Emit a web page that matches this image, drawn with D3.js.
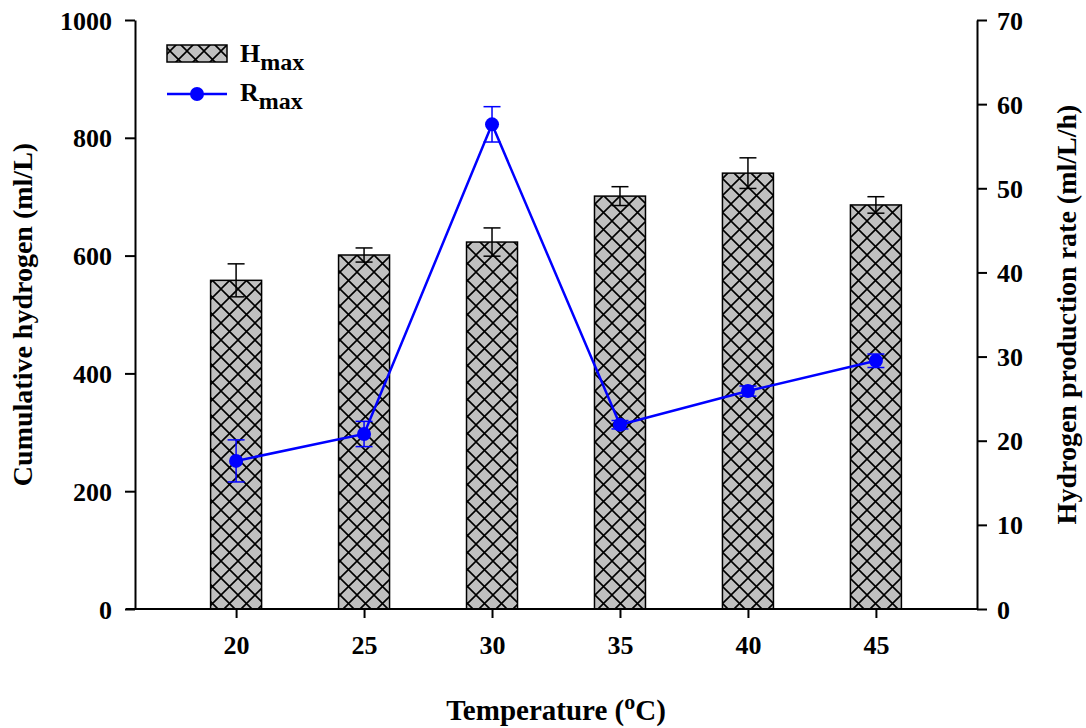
<!DOCTYPE html>
<html>
<head>
<meta charset="utf-8">
<script src="https://cdn.jsdelivr.net/npm/d3@7"></script>
<style>
  body { margin: 0; background: #fff; }
  svg text { font-family: "Liberation Serif", "Times New Roman", serif; font-weight: bold; }
</style>
</head>
<body>
<div id="container"></div>
<script>
// data
var temps = [20, 25, 30, 35, 40, 45];
var hmax = [558, 601, 623, 701, 740, 686];
var hmaxErr = [28, 12, 24, 16, 26, 14];
var rmax = [17.6, 20.8, 57.6, 21.9, 25.9, 29.5];
var rmaxErr = [2.5, 1.5, 2.1, 0.5, 0.6, 0.8];
var leftTicks = [0, 200, 400, 600, 800, 1000];
var rightTicks = [0, 10, 20, 30, 40, 50, 60, 70];

var W = 1086, H = 728;
var mLeft = 135, mRight = 977, mTop = 20, mBottom = 609;

var svg = d3.select('#container')
    .append('svg')
    .attr('width', W)
    .attr('height', H);

var defs = svg.append('defs');
var pat = defs.append('pattern')
    .attr('id', 'hatch')
    .attr('patternUnits', 'userSpaceOnUse')
    .attr('width', 17)
    .attr('height', 17);
pat.append('rect').attr('width', 17).attr('height', 17).attr('fill', '#c0c0c0');
pat.append('path')
    .attr('d', 'M0,0 L17,17 M17,0 L0,17 M-2,15 L2,19 M15,-2 L19,2 M-2,2 L2,-2 M15,19 L19,15')
    .attr('stroke', '#000')
    .attr('stroke-width', 1.6);

var x = d3.scalePoint()
    .domain(temps)
    .range([mLeft, mRight])
    .padding(0.79);

var yL = d3.scaleLinear().domain([0, 1000]).range([mBottom, mTop]);
var yR = d3.scaleLinear().domain([0, 70]).range([mBottom, mTop]);

var barW = 51;

// bars
svg.selectAll('.bar')
    .data(temps)
    .enter().append('rect')
    .attr('class', 'bar')
    .attr('x', function (d) { return x(d) - barW / 2; })
    .attr('y', function (d, i) { return yL(hmax[i]); })
    .attr('width', barW)
    .attr('height', function (d, i) { return mBottom - yL(hmax[i]); })
    .attr('fill', 'url(#hatch)')
    .attr('stroke', '#000')
    .attr('stroke-width', 1.5);

// bar error bars
var capW = 17;
temps.forEach(function (t, i) {
    var cx = x(t), hi = yL(hmax[i] + hmaxErr[i]), lo = yL(hmax[i] - hmaxErr[i]);
    var g = svg.append('g').attr('stroke', '#000').attr('stroke-width', 1.5);
    g.append('line').attr('x1', cx).attr('x2', cx).attr('y1', hi).attr('y2', lo);
    g.append('line').attr('x1', cx - capW / 2).attr('x2', cx + capW / 2).attr('y1', hi).attr('y2', hi);
    g.append('line').attr('x1', cx - capW / 2).attr('x2', cx + capW / 2).attr('y1', lo).attr('y2', lo);
});

// axes
var axL = d3.axisLeft(yL).tickValues(leftTicks).tickFormat(d3.format('d')).tickSize(10).tickSizeOuter(0);
var axR = d3.axisRight(yR).tickValues(rightTicks).tickFormat(d3.format('d')).tickSize(10).tickSizeOuter(0);
var axB = d3.axisBottom(x).tickSize(9).tickSizeOuter(0);

function styleAxis(g) {
    g.selectAll('path, line').attr('stroke', '#000').attr('stroke-width', 2);
    g.selectAll('text').attr('fill', '#000').style('font-size', '26px');
}

svg.append('g').attr('transform', 'translate(' + mLeft + ',0)').call(axL).call(styleAxis)
    .selectAll('text').attr('x', -23).attr('dy', '0.35em');
svg.append('g').attr('transform', 'translate(' + mRight + ',0)').call(axR).call(styleAxis)
    .selectAll('text').attr('x', 20).attr('dy', '0.35em');
var gB = svg.append('g').attr('transform', 'translate(0,' + mBottom + ')').call(axB).call(styleAxis);
gB.selectAll('text').attr('y', 27);
gB.select('.domain').attr('d', 'M' + (mLeft - 9) + ',0H' + mRight);

// line series
var line = d3.line()
    .x(function (d, i) { return x(temps[i]); })
    .y(function (d) { return yR(d); });

svg.append('path')
    .attr('d', line(rmax))
    .attr('fill', 'none')
    .attr('stroke', '#0000ff')
    .attr('stroke-width', 2.5);

temps.forEach(function (t, i) {
    var cx = x(t), hi = yR(rmax[i] + rmaxErr[i]), lo = yR(rmax[i] - rmaxErr[i]);
    var g = svg.append('g').attr('stroke', '#0000ff').attr('stroke-width', 1.5);
    g.append('line').attr('x1', cx).attr('x2', cx).attr('y1', hi).attr('y2', lo);
    g.append('line').attr('x1', cx - capW / 2).attr('x2', cx + capW / 2).attr('y1', hi).attr('y2', hi);
    g.append('line').attr('x1', cx - capW / 2).attr('x2', cx + capW / 2).attr('y1', lo).attr('y2', lo);
});

svg.selectAll('.dot')
    .data(rmax)
    .enter().append('circle')
    .attr('class', 'dot')
    .attr('cx', function (d, i) { return x(temps[i]); })
    .attr('cy', function (d) { return yR(d); })
    .attr('r', 7)
    .attr('fill', '#0000ff');

// axis titles
svg.append('text')
    .attr('transform', 'translate(32,' + (mTop + mBottom) / 2 + ') rotate(-90)')
    .attr('text-anchor', 'middle')
    .style('font-size', '28px')
    .text('Cumulative hydrogen (ml/L)');

svg.append('text')
    .attr('transform', 'translate(1076,' + (mTop + mBottom) / 2 + ') rotate(-90)')
    .attr('text-anchor', 'middle')
    .style('font-size', '28px')
    .text('Hydrogen production rate (ml/L/h)');

var xt = svg.append('text')
    .attr('x', 556)
    .attr('y', 720)
    .attr('text-anchor', 'middle')
    .style('font-size', '29px');
xt.append('tspan').text('Temperature (');
xt.append('tspan').attr('dy', -11).style('font-size', '22px').text('o');
xt.append('tspan').attr('dy', 11).text('C)');

// legend
svg.append('rect')
    .attr('x', 167).attr('y', 45)
    .attr('width', 60).attr('height', 17)
    .attr('fill', 'url(#hatch)')
    .attr('stroke', '#000').attr('stroke-width', 1.5);
var t1 = svg.append('text').attr('x', 240).attr('y', 62).style('font-size', '26px');
t1.append('tspan').text('H');
t1.append('tspan').attr('dy', 8).style('font-size', '24px').text('max');

svg.append('line')
    .attr('x1', 167).attr('x2', 227).attr('y1', 94).attr('y2', 94)
    .attr('stroke', '#0000ff').attr('stroke-width', 2.5);
svg.append('circle').attr('cx', 197).attr('cy', 94).attr('r', 7).attr('fill', '#0000ff');
var t2 = svg.append('text').attr('x', 240).attr('y', 101).style('font-size', '26px');
t2.append('tspan').text('R');
t2.append('tspan').attr('dy', 8).style('font-size', '24px').text('max');
</script>
</body>
</html>
